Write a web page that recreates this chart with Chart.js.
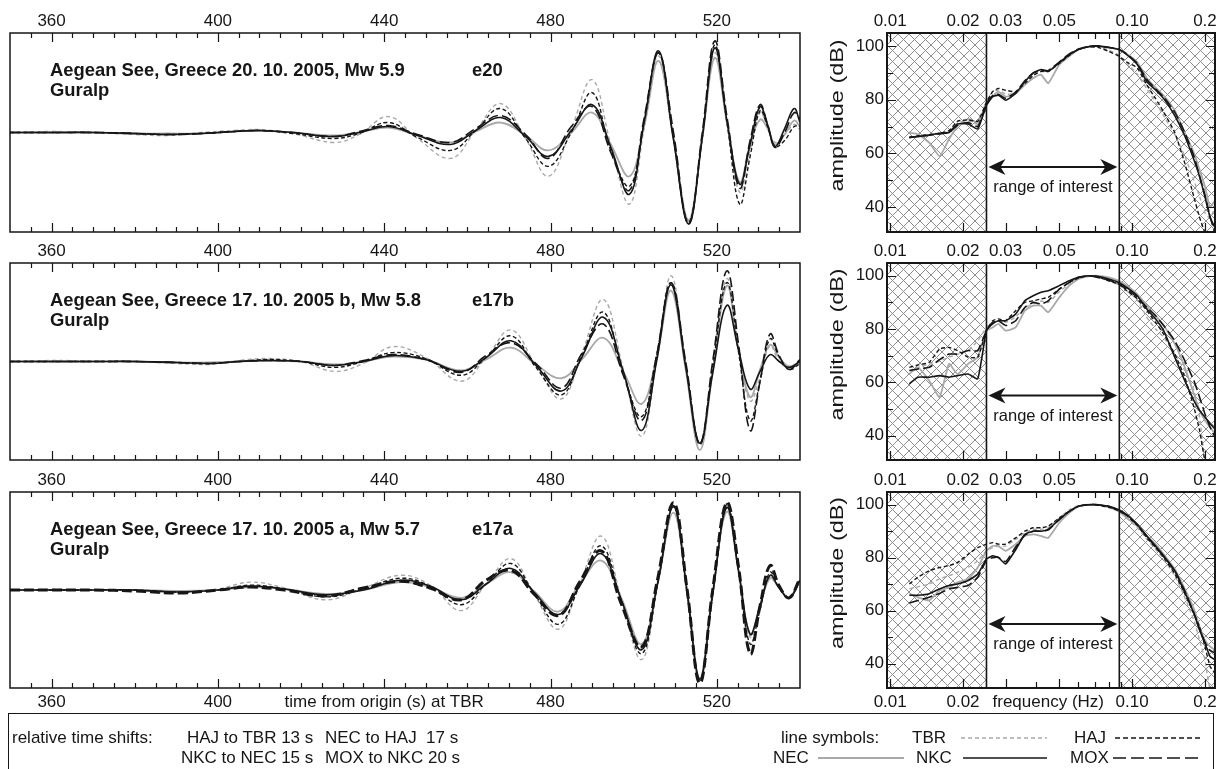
<!DOCTYPE html>
<html lang="en">
<head>
<meta charset="UTF-8">
<title>Aegean See events: waveforms and spectra</title>
<script src="https://cdn.jsdelivr.net/npm/chart.js@4.4.1/dist/chart.umd.min.js"></script>
<style>
  body { margin: 0; background: #fff; width: 1225px; height: 769px; overflow: hidden; position: relative;
         font-family: "Liberation Sans", Arial, Helvetica, sans-serif; color: #161616; }
  canvas { position: absolute; display: block; }
  #legend { position: absolute; left: 8px; top: 713px; width: 1206px; height: 70px;
            border: 1.5px solid #161616; box-sizing: border-box; }
  #legend .lt { position: absolute; font-size: 17px; line-height: 20px; white-space: pre; }
  #legend svg { position: absolute; }
</style>
</head>
<body>
<canvas id="wave0"></canvas>
<canvas id="wave1"></canvas>
<canvas id="wave2"></canvas>
<canvas id="spec0"></canvas>
<canvas id="spec1"></canvas>
<canvas id="spec2"></canvas>

<div id="legend">
  <span class="lt" style="left:3px;top:14px">relative time shifts:</span>
  <span class="lt" style="left:178px;top:14px">HAJ to TBR 13 s</span>
  <span class="lt" style="left:316px;top:14px">NEC to HAJ  17 s</span>
  <span class="lt" style="left:172px;top:34px">NKC to NEC 15 s</span>
  <span class="lt" style="left:316px;top:34px">MOX to NKC 20 s</span>

  <span class="lt" style="left:772px;top:14px">line symbols:</span>
  <span class="lt" style="left:903px;top:14px">TBR</span>
  <svg style="left:952px;top:22px" width="86" height="4"><line x1="0" y1="2" x2="86" y2="2" stroke="#a9a9a9" stroke-width="1.5" stroke-dasharray="4 3"/></svg>
  <span class="lt" style="left:1065px;top:14px">HAJ</span>
  <svg style="left:1106px;top:22px" width="86" height="4"><line x1="0" y1="2" x2="86" y2="2" stroke="#161616" stroke-width="1.5" stroke-dasharray="5 3"/></svg>
  <span class="lt" style="left:764px;top:34px">NEC</span>
  <svg style="left:809px;top:42px" width="86" height="4"><line x1="0" y1="2" x2="86" y2="2" stroke="#a9a9a9" stroke-width="2"/></svg>
  <span class="lt" style="left:907px;top:34px">NKC</span>
  <svg style="left:954px;top:42px" width="84" height="4"><line x1="0" y1="2" x2="84" y2="2" stroke="#161616" stroke-width="1.6"/></svg>
  <span class="lt" style="left:1061px;top:34px">MOX</span>
  <svg style="left:1104px;top:42px" width="88" height="4"><line x1="0" y1="2" x2="88" y2="2" stroke="#161616" stroke-width="1.6" stroke-dasharray="13 5"/></svg>
</div>

<script>
const FONT = '"Liberation Sans", Arial, Helvetica, sans-serif';
const INK = '#161616';
const GREY = '#a9a9a9';

// ---- axes ----
const timeTicks = [360, 400, 440, 480, 520];
const timeTickLabels = ['360', '400', '440', '480', '520'];
const timeTickLabelsBottom = ['360', '400', 'time from origin (s) at TBR', '480', '520'];

const freqTicks = [0.01, 0.02, 0.03, 0.05, 0.1, 0.2];
const freqTickLabels = ['0.01', '0.02', '0.03', '0.05', '0.10', '0.2'];
const freqTicksBottom = [0.01, 0.02, 0.045, 0.1, 0.2];
const freqTickLabelsBottom = ['0.01', '0.02', 'frequency (Hz)', '0.10', '0.2'];
const freqTickMarks = [0.01, 0.02, 0.03, 0.04, 0.05, 0.06, 0.07, 0.08, 0.09, 0.1, 0.2];
const dbTicks = [40, 60, 80, 100];
const dbTickMarks = [40, 50, 60, 70, 80, 90, 100];
const interestBand = [0.025, 0.0885];   // Hz, limits of the range of interest

// ---- waveforms (amplitude in % of half panel height) ----
// e20
const t_e20 = [350, 360, 370, 380, 388, 396, 404, 410, 418, 428, 434, 441, 448, 456, 462, 468, 474, 479.5, 485, 490,
               494.5, 499, 502.5, 506, 509.5, 513.2, 516.5, 519.5, 522.5, 525.5, 528, 530.4, 532.2, 534, 536.3, 538.6, 540];
const e20_NKC = [0, 0, 0, -1, -2, -1, 1, 2, 0, -4, 0, 6, -3, -12, 2, 15, -4, -24, 2, 28, -15, -62, 10, 82, -5, -92, -5, 85, 10, -52, -12, 26, 8, -14, 4, 24, 10];
const e20_TBR = [0, 1, 0, -2, -3, 0, 2, 3, -1, -10, -2, 16, -6, -26, 2, 29, -6, -44, 4, 53, -12, -72, 4, 77, -5, -90, -6, 80, 10, -60, -18, 20, 6, -10, -2, 8, 3];
const e20_HAJ = [0, 0, 0, -1, -2, -1, 1, 2, -1, -6, -1, 10, -5, -18, 2, 24, -6, -34, 0, 40, -18, -54, 10, 80, -5, -90, -5, 88, 8, -72, -24, 22, 6, -14, -8, 6, 6];
const e20_NEC = [0, 0, 0, -1, -1, -1, 1, 2, 0, -3, 0, 5, -3, -10, 1, 10, -3, -18, 0, 20, -12, -44, 6, 72, -5, -88, -6, 75, 8, -50, -12, 13, 4, -12, -2, 12, 6];
const e20_MOX = [0, 0, 0, -1, -2, -1, 1, 2, 0, -4, 1, 7, -2, -10, 4, 17, -2, -26, 6, 26, -20, -58, 14, 80, 2, -92, 0, 92, 14, -56, -8, 28, 8, -15, 0, 20, 14];

// e17b
const t_e17b = [350, 360, 370, 380, 390, 398, 405, 412, 420, 428, 435, 442, 450, 458.5, 464.5, 470.5, 476.5, 482.6, 487.5, 492.7,
                497.5, 501.9, 505.5, 509, 512.5, 515.9, 519, 522.4, 525.2, 528, 530.4, 532.8, 535, 537.4, 540];
const e17b_NKC = [0, 0, 0, 0, -1, -2, 0, 1, 0, -4, 0, 6, 2, -10, 4, 21, -4, -30, 4, 45, -10, -70, 0, 78, -5, -83, -12, 57, 12, -28, -10, 7, 0, -6, 0];
const e17b_TBR = [0, 1, 0.5, 0, -2, -3, 1, 3, 0, -10, -2, 15, 4, -20, 4, 32, -4, -38, 8, 63, -8, -76, 0, 87, -2, -85, -6, 84, 14, -40, -16, 16, 0, -6, 0];
const e17b_HAJ = [0, 0, 0, 0, -1, -2, 0, 2, 0, -6, 0, 9, 3, -14, 4, 26, -6, -34, 6, 50, -12, -56, 6, 80, -3, -84, -6, 80, 10, -60, -20, 23, 5, -8, -2];
const e17b_NEC = [0, 0, 0, 0, -1, -1, 0, 1, 0, -3, 0, 5, 2, -9, 2, 14, -3, -17, 2, 24, -10, -43, 4, 72, -8, -90, -10, 77, 12, -36, -8, 17, 4, -5, 0];
const e17b_MOX = [0, 0, 0, 0, -1, -2, 0, 1, 0, -4, 1, 7, 2, -11, 6, 19, -2, -27, 8, 38, -14, -60, 6, 80, 0, -83, 0, 92, 18, -70, -20, 28, 6, -8, 2];

// e17a
const t_e17a = [350, 360, 370, 380, 391, 400, 408, 416, 426, 435, 444, 451, 458.5, 464.5, 470.5, 476, 481.9, 487, 492.2, 497,
                501.9, 505.7, 509.6, 512.8, 515.9, 519, 522.4, 525.2, 528, 530.4, 532.8, 535, 537.4, 540];
const e17a_NKC = [0, 0, 0, 0, -2, 0, 4, 1, -5, 0, 10, 4, -10, 6, 22, -2, -25, 4, 37, -10, -61, 6, 85, 0, -91, -4, 84, 20, -45, -16, 15, 2, -8, 10];
const e17a_TBR = [0, 0.5, 0, -1, -3, 1, 8, 2, -10, 2, 15, 5, -21, 6, 32, -4, -40, 6, 55, -8, -71, 4, 86, -2, -90, -4, 86, 18, -48, -18, 14, 2, -8, 8];
const e17a_HAJ = [0, 0, 0, 0, -2, 0, 5, 1, -7, 1, 12, 4, -15, 6, 27, -3, -35, 4, 45, -10, -65, 4, 86, -2, -92, -4, 88, 20, -55, -20, 18, 2, -8, 10];
const e17a_NEC = [0, 0, 0, 0, -1, 0, 3, 1, -4, 0, 8, 3, -8, 6, 18, -1, -22, 6, 30, -8, -55, 6, 79, 0, -90, -2, 80, 20, -45, -16, 12, 2, -8, 10];
const e17a_MOX = [0, 0, 0, -1, -3, 0, 3, 0, -6, 2, 9, 2, -10, 10, 20, -4, -26, 8, 40, -14, -58, 10, 89, 2, -95, 0, 89, 24, -65, -16, 25, 4, -8, 12];

// ---- amplitude spectra (dB) ----
const freq = [0.012, 0.013, 0.0145, 0.016, 0.0175, 0.019, 0.021, 0.023, 0.025, 0.0265, 0.028, 0.03, 0.033, 0.036, 0.039, 0.042, 0.045, 0.05,
              0.055, 0.06, 0.066, 0.072, 0.08, 0.088, 0.095, 0.105, 0.115, 0.125, 0.135, 0.15, 0.165, 0.18, 0.19, 0.2, 0.21, 0.22];

const s20_NKC = [65.9, 66.3, 66.8, 67.5, 67.8, 71.0, 71.0, 69.1, 78.0, 81.1, 81.7, 79.8, 82.3, 86.7, 89.9, 91.2, 90.5, 93.7, 96.8, 98.7, 99.7, 100, 99.4, 98.7, 96.8, 93.1, 86.7, 83.6, 80.4, 74.1, 66.5, 57.7, 51.4, 43.8, 36.2, 32.4];
const s20_HAJ = [66.0, 66.5, 67.0, 67.5, 68.5, 72.0, 72.5, 72.0, 79.0, 83.0, 84.2, 83.5, 83.0, 86.0, 89.0, 90.5, 90.5, 93.5, 96.5, 98.7, 99.7, 99.5, 98.0, 96.2, 94.0, 91.8, 85.5, 80.4, 75.4, 67.8, 56.4, 43.8, 36.2, 30.6, 28, 26];
const s20_TBR = [66.0, 66.5, 67.0, 67.5, 68.0, 71.5, 72.0, 71.0, 79.5, 83.0, 83.6, 82.0, 82.5, 86.5, 89.5, 91.0, 91.0, 94.0, 97.0, 99.0, 100, 99.8, 98.5, 96.5, 93.7, 89.5, 84.0, 79.0, 74.0, 67.0, 59.0, 50.0, 44.0, 38.0, 36.0, 40.0];
const s20_NEC = [67.8, 67.2, 64.0, 59.0, 65.3, 70.3, 72.9, 71.6, 77.9, 81.1, 83.0, 81.1, 82.3, 85.5, 88.0, 89.3, 86.1, 93.1, 96.2, 98.7, 99.7, 100, 99.4, 98.7, 97.0, 94.0, 88.0, 84.5, 81.5, 76.0, 67.8, 60.2, 53.9, 47.6, 40.0, 42.6];
const s20_MOX = [66.0, 66.3, 66.8, 67.3, 67.8, 70.5, 71.5, 70.0, 78.5, 81.5, 82.0, 80.5, 82.8, 87.0, 90.0, 91.0, 90.8, 94.0, 97.0, 98.8, 99.7, 100, 99.5, 98.8, 97.0, 93.5, 87.5, 84.0, 81.0, 75.4, 67.8, 59.0, 51.5, 44.5, 36.5, 30.0];

const s17b_NKC = [59.4, 61.9, 61.9, 62.5, 61.9, 62.5, 63.1, 61.3, 79.4, 81.9, 83.1, 83.1, 85.6, 90.6, 92.5, 93.8, 94.4, 96.3, 98.1, 99.4, 100, 99.8, 98.8, 97.5, 95.6, 92.5, 87.5, 83.8, 79.4, 69.4, 60.6, 53.1, 49.4, 46.9, 44.4, 42.5];
const s17b_HAJ = [65.6, 66.5, 67.5, 72.5, 73.1, 71.9, 69.4, 69.4, 79.4, 83.1, 83.8, 83.1, 86.9, 90.0, 90.6, 91.3, 91.9, 95.0, 97.5, 99.1, 100, 99.6, 98.1, 96.9, 94.4, 91.3, 86.9, 82.5, 78.1, 70.6, 61.9, 50.6, 41.9, 30.6, 28, 26];
const s17b_TBR = [64.4, 65.5, 66.9, 68.0, 69.4, 70.5, 71.9, 75.6, 80.6, 82.5, 83.1, 82.5, 84.5, 88.0, 89.5, 90.5, 90.0, 94.0, 97.0, 99.0, 100, 99.8, 98.5, 96.5, 94.4, 91.0, 84.4, 80.0, 76.9, 70.6, 64.4, 56.9, 46.9, 30.6, 28, 26];
const s17b_NEC = [63.1, 65.6, 60.6, 54.4, 66.9, 63.1, 66.9, 69.4, 79.4, 80.6, 81.9, 79.4, 80.6, 86.9, 88.8, 88.8, 86.3, 91.9, 96.3, 98.8, 99.8, 100, 99.4, 98.1, 96.3, 93.1, 88.8, 85.0, 81.3, 74.4, 65.6, 55.6, 49.4, 45.6, 43.1, 40.6];
const s17b_MOX = [64.4, 65.0, 65.6, 68.5, 70.6, 70.6, 71.9, 71.9, 79.4, 82.5, 83.1, 81.3, 83.1, 88.1, 90.0, 89.4, 90.6, 95.0, 97.5, 99.4, 100, 99.4, 98.4, 96.9, 95.0, 91.9, 88.1, 85.0, 81.3, 75.6, 68.1, 60.6, 54.4, 48.1, 43.1, 39.4];

const s17a_NKC = [65.8, 65.8, 66.4, 68.2, 69.5, 70.1, 71.4, 73.8, 79.5, 80.7, 80.1, 77.6, 83.0, 88.8, 90.0, 90.0, 90.7, 94.4, 97.5, 99.4, 100, 100, 99.4, 98.1, 96.3, 92.5, 88.2, 84.4, 80.7, 75.1, 67.0, 58.9, 52.7, 47.7, 42.7, 41.5];
const s17a_HAJ = [70.1, 72.6, 75.1, 76.3, 77.0, 78.2, 81.3, 83.8, 85.1, 85.7, 85.1, 85.1, 87.5, 90.0, 91.3, 91.3, 91.9, 95.0, 97.5, 99.4, 100, 99.8, 99.0, 97.8, 95.9, 92.2, 87.5, 83.8, 80.1, 73.9, 66.4, 58.9, 53.9, 46.4, 38.9, 36.4];
const s17a_TBR = [68.2, 69.0, 70.1, 72.0, 73.2, 74.5, 76.3, 78.8, 82.6, 83.8, 84.4, 84.4, 86.9, 89.4, 90.7, 90.7, 91.3, 95.0, 98.1, 99.8, 100, 100, 99.4, 97.5, 95.0, 91.3, 87.0, 83.2, 79.5, 73.2, 65.0, 56.3, 48.8, 41.3, 30.0, 28.0];
const s17a_NEC = [66.4, 65.1, 63.9, 67.6, 68.8, 70.7, 72.0, 76.3, 82.6, 84.4, 84.4, 82.6, 85.1, 88.2, 88.8, 88.2, 87.5, 93.2, 96.9, 99.4, 100, 100, 99.0, 97.5, 95.0, 91.9, 88.2, 85.1, 81.3, 75.7, 68.2, 60.7, 53.9, 48.9, 46.4, 45.2];
const s17a_MOX = [62.9, 63.8, 65.1, 66.5, 68.2, 68.8, 69.5, 72.6, 79.0, 80.0, 80.1, 78.5, 84.0, 88.5, 90.0, 90.0, 90.5, 94.5, 97.5, 99.4, 100, 100, 99.4, 97.8, 96.0, 92.5, 88.0, 84.0, 80.5, 75.0, 67.5, 59.0, 53.0, 48.0, 45.0, 44.0];

// ---- panels ----
const panels = [
  { top: 33, bottom: 232, title: 'Aegean See, Greece 20. 10. 2005, Mw 5.9', code: 'e20', t: t_e20,
    wave: { NKC: e20_NKC, MOX: e20_MOX, HAJ: e20_HAJ, NEC: e20_NEC, TBR: e20_TBR },
    spec: { NKC: s20_NKC, MOX: s20_MOX, HAJ: s20_HAJ, NEC: s20_NEC, TBR: s20_TBR } },
  { top: 263, bottom: 460, title: 'Aegean See, Greece 17. 10. 2005 b, Mw 5.8', code: 'e17b', t: t_e17b,
    wave: { NKC: e17b_NKC, MOX: e17b_MOX, HAJ: e17b_HAJ, NEC: e17b_NEC, TBR: e17b_TBR },
    spec: { NKC: s17b_NKC, MOX: s17b_MOX, HAJ: s17b_HAJ, NEC: s17b_NEC, TBR: s17b_TBR } },
  { top: 492, bottom: 688, title: 'Aegean See, Greece 17. 10. 2005 a, Mw 5.7', code: 'e17a', t: t_e17a, bottomAxis: true,
    wave: { NKC: e17a_NKC, MOX: e17a_MOX, HAJ: e17a_HAJ, NEC: e17a_NEC, TBR: e17a_TBR },
    spec: { NKC: s17a_NKC, MOX: s17a_MOX, HAJ: s17a_HAJ, NEC: s17a_NEC, TBR: s17a_TBR } }
];

const lineStyle = {
  NKC: { color: INK,  width: 1.6, dash: [] },
  MOX: { color: INK,  width: 1.6, dash: [10, 4] },
  HAJ: { color: INK,  width: 1.4, dash: [4, 2.5] },
  NEC: { color: GREY, width: 1.8, dash: [] },
  TBR: { color: GREY, width: 1.4, dash: [4, 3] }
};
const stations = ['NKC', 'MOX', 'HAJ', 'NEC', 'TBR'];   // first is drawn on top

function pairs(xs, ys) { return xs.map((x, i) => ({ x: x, y: ys[i] })); }
function tickFont() { return { size: 17, family: FONT }; }

// fixed axis boxes: no extra room for overhanging labels
function fixH(h) { return s => { s.height = h; s.paddingLeft = 0; s.paddingRight = 0; }; }
function fixW(w) { return s => { s.width = w; s.paddingTop = 0; s.paddingBottom = 0; }; }

// ---- decoration plugins ----
const waveDeco = {
  id: 'waveDeco',
  afterDatasetsDraw(chart, args, opts) {
    const { ctx, chartArea: a, scales: { x } } = chart;
    ctx.save();
    ctx.strokeStyle = INK;
    ctx.lineWidth = 1.5;
    ctx.strokeRect(a.left, a.top, a.right - a.left, a.bottom - a.top);
    ctx.lineWidth = 1.2;
    ctx.beginPath();
    for (let t = 355; t < 540; t += 5) {
      const px = Math.round(x.getPixelForValue(t)) + 0.5;
      const len = t % 40 === 0 ? 9 : 5;
      ctx.moveTo(px, a.top); ctx.lineTo(px, a.top + len);
      ctx.moveTo(px, a.bottom); ctx.lineTo(px, a.bottom - len);
    }
    ctx.stroke();
    ctx.fillStyle = INK;
    ctx.font = 'bold 18.4px ' + FONT;
    ctx.textBaseline = 'alphabetic';
    ctx.fillText(opts.title, a.left + 40, a.top + 43);
    ctx.fillText('Guralp', a.left + 40, a.top + 63);
    ctx.fillText(opts.code, a.left + 462, a.top + 43);
    ctx.restore();
  }
};

function hatch(ctx) {
  const c = document.createElement('canvas');
  c.width = 11; c.height = 11;
  const g = c.getContext('2d');
  g.strokeStyle = '#8e8e8e';
  g.lineWidth = 1;
  g.beginPath();
  g.moveTo(-1, -1); g.lineTo(12, 12);
  g.moveTo(12, -1); g.lineTo(-1, 12);
  g.stroke();
  return ctx.createPattern(c, 'repeat');
}

const specDeco = {
  id: 'specDeco',
  beforeDatasetsDraw(chart) {
    const { ctx, chartArea: a, scales: { x } } = chart;
    const xl = x.getPixelForValue(interestBand[0]);
    const xr = x.getPixelForValue(interestBand[1]);
    ctx.save();
    ctx.fillStyle = hatch(ctx);
    ctx.fillRect(a.left, a.top, xl - a.left, a.bottom - a.top);
    ctx.fillRect(xr, a.top, a.right - xr, a.bottom - a.top);
    ctx.restore();
  },
  afterDatasetsDraw(chart) {
    const { ctx, chartArea: a, scales: { x, y } } = chart;
    const xl = x.getPixelForValue(interestBand[0]);
    const xr = x.getPixelForValue(interestBand[1]);
    ctx.save();
    ctx.strokeStyle = INK;
    ctx.fillStyle = INK;
    // band limits
    ctx.lineWidth = 1.6;
    ctx.beginPath();
    ctx.moveTo(xl, a.top); ctx.lineTo(xl, a.bottom);
    ctx.moveTo(xr, a.top); ctx.lineTo(xr, a.bottom);
    ctx.stroke();
    // frame
    ctx.lineWidth = 2;
    ctx.strokeRect(a.left, a.top, a.right - a.left, a.bottom - a.top);
    // inward ticks
    ctx.lineWidth = 1.2;
    ctx.beginPath();
    freqTickMarks.forEach(f => {
      const px = Math.round(x.getPixelForValue(f)) + 0.5;
      const len = freqTicks.includes(f) ? 9 : 6;
      ctx.moveTo(px, a.top); ctx.lineTo(px, a.top + len);
      ctx.moveTo(px, a.bottom); ctx.lineTo(px, a.bottom - len);
    });
    dbTickMarks.forEach(d => {
      const py = Math.round(y.getPixelForValue(d)) + 0.5;
      const len = dbTicks.includes(d) ? 9 : 6;
      ctx.moveTo(a.left, py); ctx.lineTo(a.left + len, py);
      ctx.moveTo(a.right, py); ctx.lineTo(a.right - len, py);
    });
    ctx.stroke();
    // range of interest arrow
    const ya = y.getPixelForValue(55);
    const l = xl + 2, r = xr - 2;
    ctx.lineWidth = 2;
    ctx.beginPath();
    ctx.moveTo(l + 6, ya); ctx.lineTo(r - 6, ya);
    ctx.stroke();
    [[l, 1], [r, -1]].forEach(([tip, d]) => {
      ctx.beginPath();
      ctx.moveTo(tip, ya);
      ctx.lineTo(tip + d * 17, ya - 8);
      ctx.lineTo(tip + d * 12, ya);
      ctx.lineTo(tip + d * 17, ya + 8);
      ctx.closePath();
      ctx.fill();
    });
    ctx.font = '16.5px ' + FONT;
    ctx.textAlign = 'center';
    ctx.textBaseline = 'middle';
    ctx.fillText('range of interest', (xl + xr) / 2, ya + 21);
    // y title (stretched along its baseline like the original lettering)
    ctx.font = '18px ' + FONT;
    ctx.translate(a.left - 49, (a.top + a.bottom) / 2 - 17);
    ctx.rotate(-Math.PI / 2);
    ctx.scale(1.3, 1);
    ctx.fillText('amplitude (dB)', 0, 0);
    ctx.restore();
  }
};

// ---- build charts ----
panels.forEach((p, i) => {
  const h = p.bottom - p.top;
  const extra = p.bottomAxis ? 26 : 2;

  // waveform panel
  const cw = document.getElementById('wave' + i);
  cw.width = 810; cw.height = h + 32 + extra;
  cw.style.left = '0px'; cw.style.top = (p.top - 32) + 'px';

  const wScales = {
    x: {
      type: 'linear', position: 'top', min: 350, max: 540,
      grid: { display: false, drawTicks: false }, border: { display: false },
      ticks: { font: tickFont(), color: INK, padding: 1, maxRotation: 0, autoSkip: false,
               callback: (v, k) => timeTickLabels[k] },
      afterBuildTicks: s => { s.ticks = timeTicks.map(v => ({ value: v })); },
      afterFit: fixH(30)
    },
    y: { display: false, min: -100, max: 100 }
  };
  if (p.bottomAxis) {
    wScales.x2 = {
      type: 'linear', position: 'bottom', min: 350, max: 540,
      grid: { display: false, drawTicks: false }, border: { display: false },
      ticks: { font: tickFont(), color: INK, padding: 4, maxRotation: 0, autoSkip: false,
               callback: (v, k) => timeTickLabelsBottom[k] },
      afterBuildTicks: s => { s.ticks = timeTicks.map(v => ({ value: v })); },
      afterFit: fixH(26)
    };
  }

  new Chart(cw, {
    type: 'line',
    data: {
      datasets: stations.map(st => ({
        label: st,
        data: pairs(p.t, p.wave[st]),
        borderColor: lineStyle[st].color,
        borderWidth: (i === 2 && st === 'MOX') ? 3 : lineStyle[st].width,
        borderDash: lineStyle[st].dash,
        pointRadius: 0,
        tension: 0.4,
        fill: false
      }))
    },
    options: {
      responsive: false, animation: false, events: [],
      layout: { padding: { top: 2, left: 10, right: 10, bottom: p.bottomAxis ? 0 : 2 } },
      scales: wScales,
      plugins: { legend: { display: false }, tooltip: { enabled: false },
                 waveDeco: { title: p.title, code: p.code } }
    },
    plugins: [waveDeco]
  });

  // spectrum panel
  const cs = document.getElementById('spec' + i);
  cs.width = 415; cs.height = h + 32 + extra;
  cs.style.left = '810px'; cs.style.top = (p.top - 32) + 'px';

  const sScales = {
    x: {
      type: 'logarithmic', position: 'top', min: 0.0097, max: 0.22,
      grid: { display: false, drawTicks: false }, border: { display: false },
      ticks: { font: tickFont(), color: INK, padding: 1, maxRotation: 0, autoSkip: false,
               callback: (v, k) => freqTickLabels[k] },
      afterBuildTicks: s => { s.ticks = freqTicks.map(v => ({ value: v })); },
      afterFit: fixH(30)
    },
    y: {
      type: 'linear', position: 'left', min: 30.8, max: 104.8,
      grid: { display: false, drawTicks: false }, border: { display: false },
      ticks: { font: tickFont(), color: INK, padding: 3 },
      afterBuildTicks: s => { s.ticks = dbTicks.map(v => ({ value: v })); },
      afterFit: fixW(77)
    }
  };
  if (p.bottomAxis) {
    sScales.x2 = {
      type: 'logarithmic', position: 'bottom', min: 0.0097, max: 0.22,
      grid: { display: false, drawTicks: false }, border: { display: false },
      ticks: { font: tickFont(), color: INK, padding: 4, maxRotation: 0, autoSkip: false,
               callback: (v, k) => freqTickLabelsBottom[k] },
      afterBuildTicks: s => { s.ticks = freqTicksBottom.map(v => ({ value: v })); },
      afterFit: fixH(26)
    };
  }

  new Chart(cs, {
    type: 'line',
    data: {
      datasets: stations.map(st => ({
        label: st,
        data: pairs(freq, p.spec[st]),
        borderColor: lineStyle[st].color,
        borderWidth: lineStyle[st].width,
        borderDash: lineStyle[st].dash,
        pointRadius: 0,
        tension: 0.15,
        fill: false
      }))
    },
    options: {
      responsive: false, animation: false, events: [],
      layout: { padding: { top: 2, left: 0, right: 10, bottom: p.bottomAxis ? 0 : 2 } },
      scales: sScales,
      plugins: { legend: { display: false }, tooltip: { enabled: false } }
    },
    plugins: [specDeco]
  });
});
</script>
</body>
</html>
